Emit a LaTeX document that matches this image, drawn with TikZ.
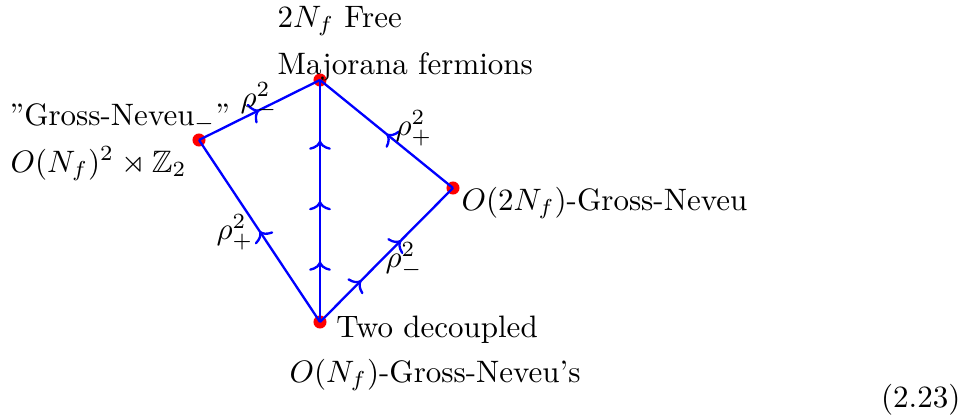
\documentclass[tikz,border=0pt]{standalone}
\usepackage{amssymb}
\usetikzlibrary{decorations.markings,arrows.meta}
\begin{document}
\begin{tikzpicture}[x={(0.32258pt,0)}, y={(0,-0.32258pt)},
  dot/.style={circle, fill=red, inner sep=0pt, minimum size=4.2pt},
  edge/.style={blue, line width=0.75pt},
  lbl/.style={inner sep=0pt},
  arr/.style={postaction={decorate, decoration={markings,
      mark=at position #1 with {\arrow[blue]{Computer Modern Rightarrow[length=3pt,width=7pt]}}}}}]
\useasboundingbox (0,0) rectangle (976,419);
% vertices
\node[dot] (T) at (320,80) {};
\node[dot] (L) at (199,140) {};
\node[dot] (R) at (453,188) {};
\node[dot] (B) at (320,322) {};
% edges
\draw[edge, arr=0.5] (L.center) -- (T.center);
\draw[edge, arr=0.5] (R.center) -- (T.center);
\draw[edge, arr=0.5] (B.center) -- (L.center);
\draw[edge, arr=0.25, arr=0.5, arr=0.75] (B.center) -- (T.center);
\draw[edge, arr=0.31, arr=0.61] (B.center) -- (R.center);
% edge labels
\node[lbl] (rLT) at (259,100) {$\rho_-^2$};
\node[lbl] (rRT) at (414,128) {$\rho_+^2$};
\node[lbl] (rBL) at (235,232) {$\rho_+^2$};
\node[lbl] (rBR) at (404,260) {$\rho_-^2$};
% vertex labels
\node[lbl, anchor=base west] (t1) at (277,27) {$2N_f$ Free};
\node[lbl, anchor=base west] (t2) at (277,74) {Majorana fermions};
\node[lbl, anchor=base west] (l1) at (9,125) {''Gross-Neveu$_-$''};
\node[lbl, anchor=base west] (l2) at (10,172) {$O(N_f)^2\rtimes\mathbb{Z}_2$};
\node[lbl, anchor=base west] (r1) at (461,210) {$O(2N_f)$-Gross-Neveu};
\node[lbl, anchor=base] (b1) at (437,337) {Two decoupled};
\node[lbl, anchor=base] (b2) at (435,382) {$O(N_f)$-Gross-Neveu's};
\node[lbl, anchor=base east] (eq) at (961,407) {(2.23)};
\end{tikzpicture}
\end{document}
